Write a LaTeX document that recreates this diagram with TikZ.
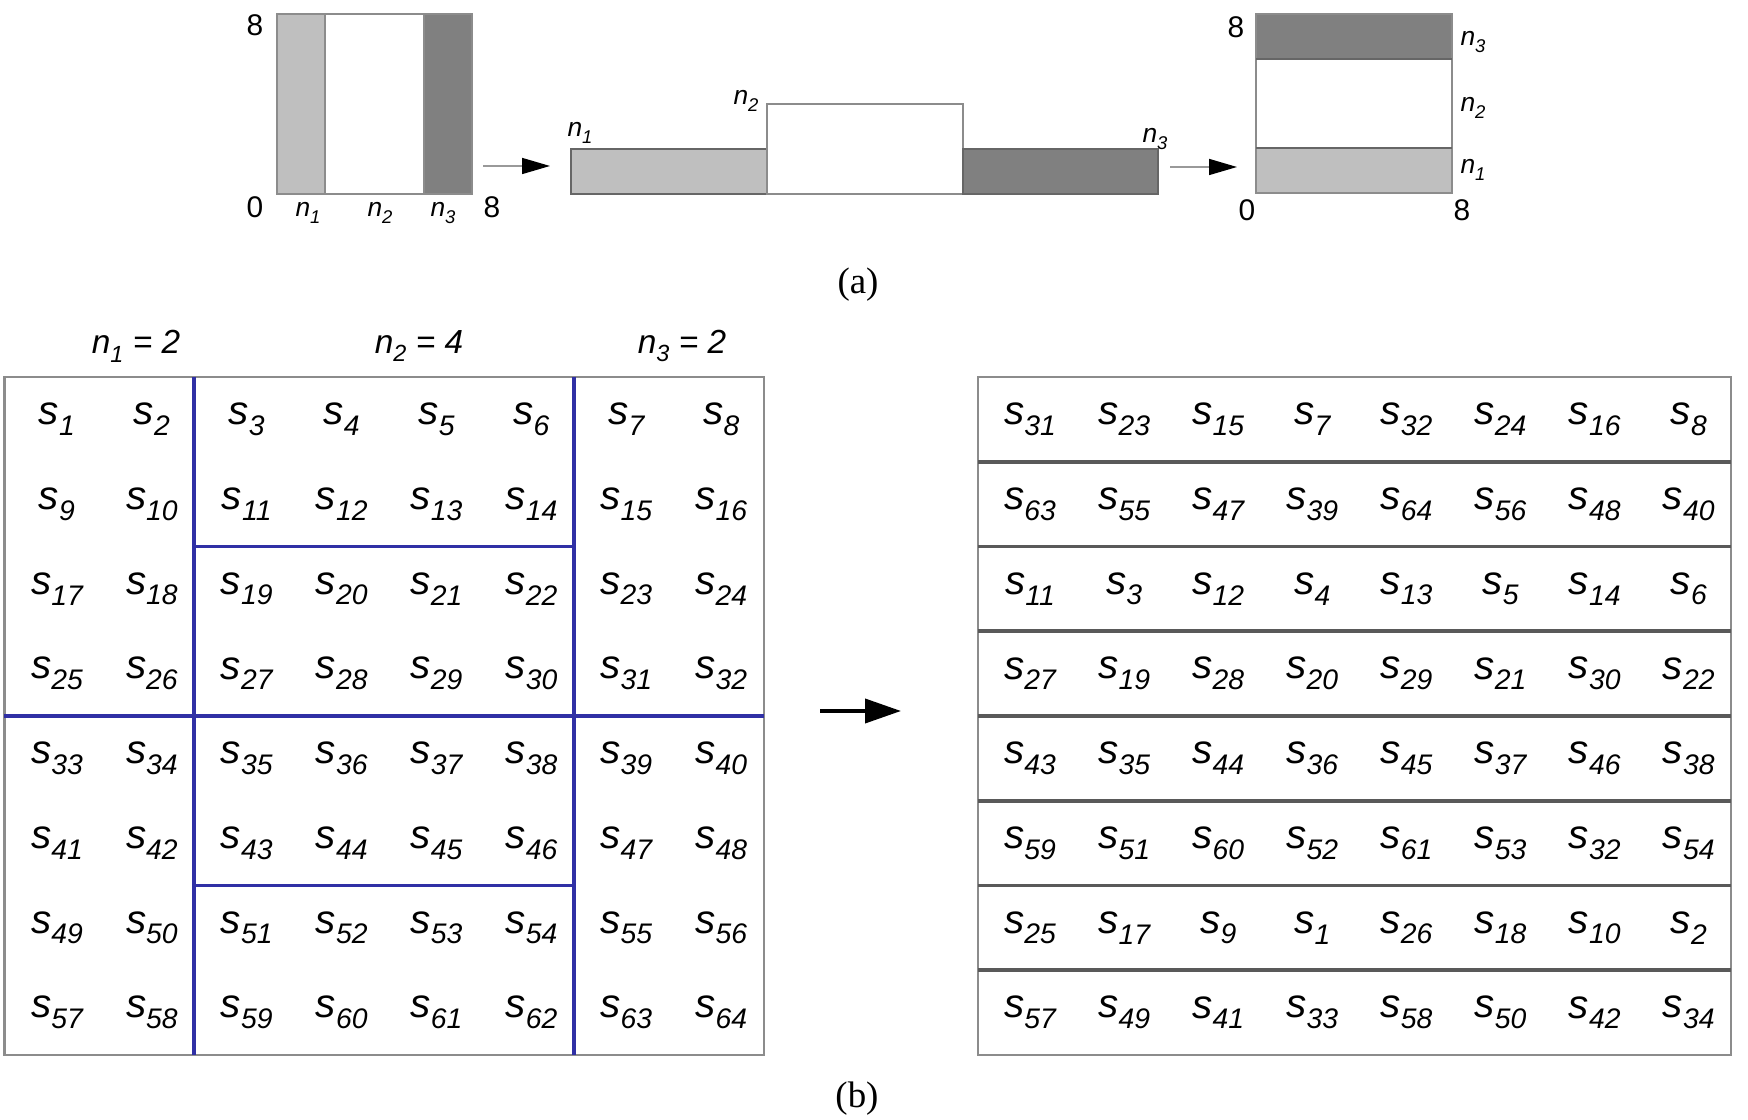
\documentclass[tikz,border=0pt]{standalone}
\usepackage{fontspec}
\setmainfont{Liberation Serif}
\newfontfamily\labfont{Liberation Sans}
\usetikzlibrary{arrows.meta,positioning}
\newcommand{\slab}[2]{#1\raisebox{-0.5ex}{\scalebox{0.7}{#2}}}
\definecolor{gridblue}{RGB}{48,48,165}

\begin{document}
\begin{tikzpicture}
[x=0.1mm,y=-0.1mm,
 edge/.style = {draw=black!45, line width=0.6pt},
 light/.style = {fill=black!25},
 dark/.style = {fill=black!50},
 tick/.style = {font=\labfont\fontsize{8.5}{10}\selectfont, inner sep=0pt},
 nlab/.style = {font=\labfont\itshape\fontsize{7.5}{9}\selectfont, inner sep=0pt},
 head/.style = {font=\labfont\itshape\fontsize{9.5}{11}\selectfont, inner sep=0pt},
 cell/.style = {font=\labfont\itshape\fontsize{11.5}{13}\selectfont, inner sep=0pt, xshift=0.5mm},
 capt/.style = {font=\fontsize{10.5}{12}\selectfont, inner sep=0pt},
 thinarr/.style = {draw=black!40, line width=0.45pt, -{Triangle[length=2.8mm,width=1.6mm,color=black]}},
 bigarr/.style = {draw=black, line width=1.1pt, -{Triangle[length=3.6mm,width=2.4mm]}},
 blueline/.style = {draw=gridblue, line width=1.1pt},
 rowline/.style = {draw=black!65, line width=1.1pt},
]
\useasboundingbox (0,0) rectangle (1748,1120);

% (a) square, column strips
\fill[light] (277,14) rectangle (325,194);
\fill[dark] (424,14) rectangle (472,194);
\draw[edge] (277,14) rectangle (472,194);
\draw[edge] (325,14)--(325,194);
\draw[edge] (424,14)--(424,194);
\node (t8) at (255,25)[tick] {8};
\node (t0) at (255,207)[tick] {0};
\node (tx8) at (492,207)[tick] {8};
\node (c1) at (308,213)[nlab] {\slab{n}{1}};
\node (c2) at (380,213)[nlab] {\slab{n}{2}};
\node (c3) at (443,213)[nlab] {\slab{n}{3}};

\coordinate (p1) at (483,166);
\coordinate (q1) at (550,166);
\draw[thinarr] (p1)--(q1);

% (a) strips laid in a row
\fill[light] (571,149) rectangle (767,194);
\fill[dark] (963,149) rectangle (1158,194);
\draw[draw=black!60, line width=0.6pt] (571,149) rectangle (767,194);
\draw[edge] (767,104) rectangle (963,194);
\draw[draw=black!60, line width=0.6pt] (963,149) rectangle (1158,194);
\node (m1) at (580,133)[nlab] {\slab{n}{1}};
\node (m2) at (746,101)[nlab] {\slab{n}{2}};
\node (m3) at (1155,139)[nlab] {\slab{n}{3}};

\coordinate (p2) at (1170,167);
\coordinate (q2) at (1237,167);
\draw[thinarr] (p2)--(q2);

% (a) square, row bands
\fill[dark] (1256,14) rectangle (1452,59);
\fill[light] (1256,148) rectangle (1452,193);
\draw[edge] (1256,14) rectangle (1452,193);
\draw[draw=black!60, line width=0.8pt] (1256,59)--(1452,59);
\draw[draw=black!60, line width=0.8pt] (1256,148)--(1452,148);
\node (r8) at (1236,27)[tick] {8};
\node (r0) at (1247,210)[tick] {0};
\node (rx8) at (1462,210)[tick] {8};
\node (b3) at (1473,42)[nlab] {\slab{n}{3}};
\node (b2) at (1473,108)[nlab] {\slab{n}{2}};
\node (b1) at (1473,170)[nlab] {\slab{n}{1}};

\node (capa) at (858,285)[capt] {(a)};

% (b) left grid
\node (h1) at (136,346)[head] {\slab{n}{1} = 2};
\node (h2) at (419,346)[head] {\slab{n}{2} = 4};
\node (h3) at (682,346)[head] {\slab{n}{3} = 2};
\draw[edge] (4.5,377) rectangle (764,1055);
\draw[blueline] (194.3,377)--(194.3,1055);
\draw[blueline] (573.9,377)--(573.9,1055);
\draw[blueline] (4.5,716)--(764,716);
\draw[blueline] (194.3,546.5)--(573.9,546.5);
\draw[blueline] (194.3,885.5)--(573.9,885.5);
\foreach \r in {0,...,7}
  \foreach \c in {0,...,7}{
    \pgfmathtruncatemacro{\k}{8*\r+\c+1}
    \node (l-\r-\c) at ({4.5+94.9*(\c+0.5)},{377+84.75*(\r+0.5)})[cell] {\slab{s}{\k}};
  }

\coordinate (p3) at (820,711);
\coordinate (q3) at (901,711);
\draw[bigarr] (p3)--(q3);

% (b) right grid
\draw[edge] (978,377) rectangle (1731,1055);
\foreach \r in {1,...,7}
  \draw[rowline] (978,{377+84.75*\r})--(1731,{377+84.75*\r});
\foreach \row [count=\r from 0] in {{31,23,15,7,32,24,16,8},{63,55,47,39,64,56,48,40},
    {11,3,12,4,13,5,14,6},{27,19,28,20,29,21,30,22},{43,35,44,36,45,37,46,38},
    {59,51,60,52,61,53,32,54},{25,17,9,1,26,18,10,2},{57,49,41,33,58,50,42,34}}
  \foreach \v [count=\c from 0] in \row
    \node (g-\r-\c) at ({978+94.1*(\c+0.5)},{377+84.75*(\r+0.5)})[cell] {\slab{s}{\v}};

\node (capb) at (857,1099)[capt] {(b)};
\end{tikzpicture}
\end{document}
